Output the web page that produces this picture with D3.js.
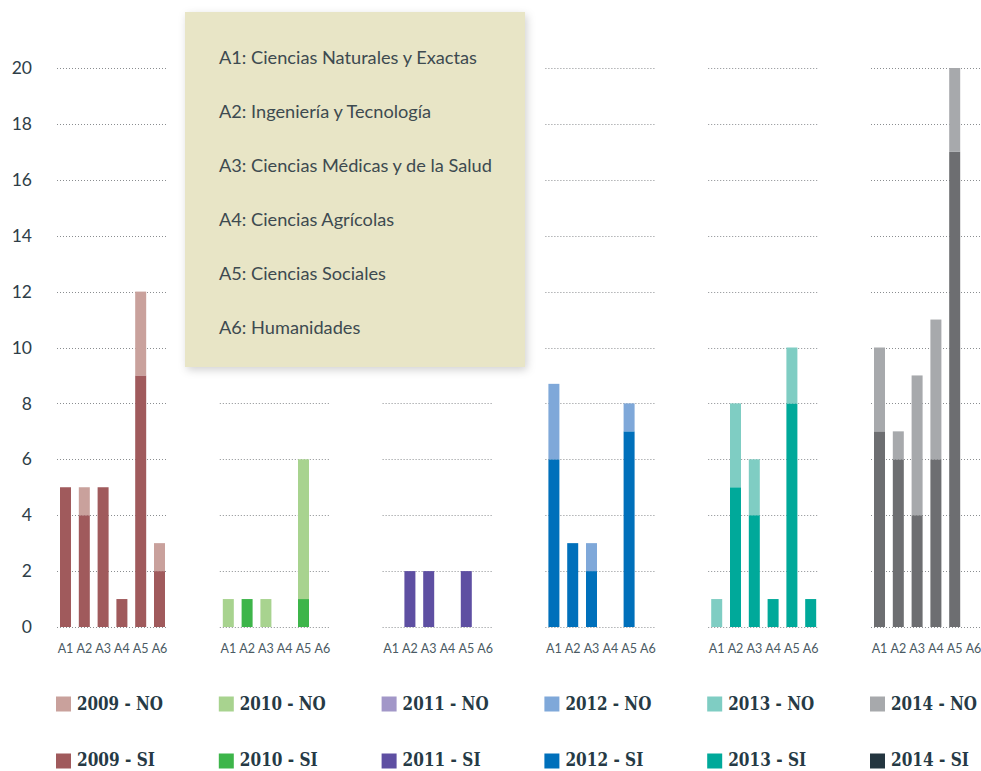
<!DOCTYPE html>
<html><head><meta charset="utf-8">
<script src="https://cdnjs.cloudflare.com/ajax/libs/d3/7.8.5/d3.min.js"></script>
<style>body{margin:0;background:#fff}svg{display:block}</style>
</head><body>
<svg id="c" width="981" height="771"></svg>
<script>
const years = ["2009","2010","2011","2012","2013","2014"];
const areas = ["A1","A2","A3","A4","A5","A6"];
const si = {
  "2009":[5,4,5,1,9,2],
  "2010":[0,1,0,0,1,0],
  "2011":[0,2,2,0,2,0],
  "2012":[6,3,2,0,7,0],
  "2013":[0,5,4,1,8,1],
  "2014":[7,6,4,6,17,0]
};
const no = {
  "2009":[0,1,0,0,3,1],
  "2010":[1,0,1,0,5,0],
  "2011":[0,0,0,0,0,0],
  "2012":[2.7,0,1,0,1,0],
  "2013":[1,3,2,0,2,0],
  "2014":[3,1,5,5,3,0]
};
const yTicks = [0,2,4,6,8,10,12,14,16,18,20];
const areaNames = ["A1: Ciencias Naturales y Exactas","A2: Ingeniería y Tecnología","A3: Ciencias Médicas y de la Salud","A4: Ciencias Agrícolas","A5: Ciencias Sociales","A6: Humanidades"];
const colNo = {"2009":"#c9a19c","2010":"#a8d38f","2011":"#a297c8","2012":"#7fa8d9","2013":"#7fcdc3","2014":"#a7a9ac"};
const colSi = {"2009":"#a05a5c","2010":"#3db54a","2011":"#5e4fa2","2012":"#0070bb","2013":"#00a99a","2014":"#6d6e71"};
const colSiLegend = {"2009":"#a05a5c","2010":"#3db54a","2011":"#5e4fa2","2012":"#0070bb","2013":"#00a99a","2014":"#243640"};

const svg = d3.select("#c");
const y = d3.scaleLinear().domain([0,20]).range([627,68]);
const x0 = d3.scaleBand().domain(years).range([57, 57+6*162.8]);
const x1 = d3.scaleBand().domain(areas).range([0,111]).paddingInner(0.415).paddingOuter(0.16);

// y axis labels
svg.append("g").selectAll("text").data(yTicks).join("text")
  .attr("x",32).attr("y",d=>y(d)).attr("dy","0.35em").attr("text-anchor","end")
  .attr("font-family","Lato, 'Open Sans', sans-serif").attr("font-size",17.5).attr("fill","#2e3e48")
  .text(d=>d);

const panels = svg.selectAll("g.panel").data(years).join("g").attr("class","panel")
  .attr("transform",d=>`translate(${x0(d)},0)`);

panels.each(function(yr){
  const g = d3.select(this);
  g.selectAll("line.grid").data(yTicks).join("line").attr("class","grid")
    .attr("x1",0).attr("x2",109).attr("y1",d=>Math.round(y(d))+0.5).attr("y2",d=>Math.round(y(d))+0.5)
    .attr("stroke","#8a8d90").attr("stroke-width",1).attr("stroke-dasharray","1,2");
  const rows = areas.map((a,i)=>({a, s:si[yr][i], n:no[yr][i]}));
  g.selectAll("rect.si").data(rows.filter(r=>r.s>0)).join("rect").attr("class","si")
    .attr("x",d=>x1(d.a)).attr("width",x1.bandwidth())
    .attr("y",d=>y(d.s)).attr("height",d=>y(0)-y(d.s)).attr("fill",colSi[yr]);
  g.selectAll("rect.no").data(rows.filter(r=>r.n>0)).join("rect").attr("class","no")
    .attr("x",d=>x1(d.a)).attr("width",x1.bandwidth())
    .attr("y",d=>y(d.s+d.n)).attr("height",d=>y(d.s)-y(d.s+d.n)).attr("fill",colNo[yr]);
  g.selectAll("text.ax").data(areas).join("text").attr("class","ax")
    .attr("x",d=>x1(d)+x1.bandwidth()/2).attr("y",653).attr("text-anchor","middle")
    .attr("font-family","Lato, 'Open Sans', sans-serif").attr("font-size",12.5).attr("fill","#4a5a63")
    .text(d=>d);
});

// legend box with shadow
const defs = svg.append("defs");
const f = defs.append("filter").attr("id","sh").attr("x","-10%").attr("y","-10%").attr("width","130%").attr("height","130%");
f.append("feDropShadow").attr("dx",2).attr("dy",3).attr("stdDeviation",4).attr("flood-color","#000").attr("flood-opacity",0.18);
svg.append("rect").attr("x",185).attr("y",12).attr("width",340).attr("height",355)
  .attr("fill","#e8e5c6").attr("filter","url(#sh)");
svg.append("g").selectAll("text").data(areaNames).join("text")
  .attr("x",219).attr("y",(d,i)=>58+i*53.9).attr("dy","0.35em")
  .attr("font-family","Lato, 'Open Sans', sans-serif").attr("font-size",18.2).attr("fill","#3d4a50")
  .text(d=>d);

// bottom legend
const leg = svg.append("g");
years.forEach((yr)=>{
  const lx = x0(yr)-1;
  [["NO",704,colNo[yr],86,704],["SI",761,colSiLegend[yr],78,759.5]].forEach(([t,ly,c,w,ty])=>{
    leg.append("rect").attr("x",lx).attr("y",ly-7.5).attr("width",15).attr("height",15).attr("fill",c);
    const txt = leg.append("text").attr("x",0).attr("y",0).attr("dy","0.36em")
      .attr("font-family","'DejaVu Serif', serif").attr("font-weight","bold").attr("font-size",18)
      .attr("fill","#263a45")
      .text(`${yr} - ${t}`);
    const nat = txt.node().getComputedTextLength();
    txt.attr("transform",`translate(${lx+21},${ty}) scale(${w/nat},1)`);
  });
});
</script>
</body></html>
